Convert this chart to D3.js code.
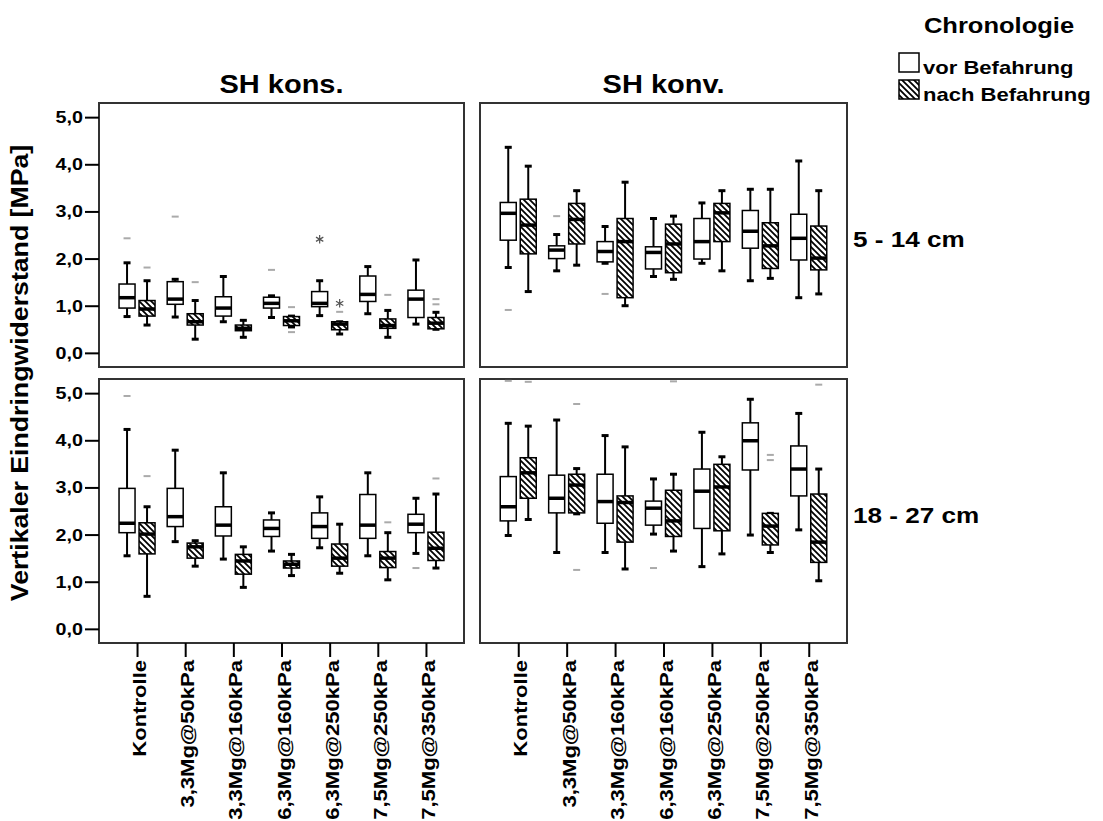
<!DOCTYPE html>
<html>
<head>
<meta charset="utf-8">
<script src="https://cdn.jsdelivr.net/npm/d3@7"></script>
<style>
  body { margin: 0; background: #fff; }
  text { font-family: "Liberation Sans", Arial, sans-serif; font-weight: bold; fill: #000; }
</style>
</head>
<body>
<div id="chart"></div>
<script>
// categories / labels
var categories = ["Kontrolle", "3,3Mg@50kPa", "3,3Mg@160kPa", "6,3Mg@160kPa", "6,3Mg@250kPa", "7,5Mg@250kPa", "7,5Mg@350kPa"];
var columns = ["SH kons.", "SH konv."];
var rows = ["5 - 14 cm", "18 - 27 cm"];
var series = ["vor Befahrung", "nach Befahrung"];
var yTicks = [0, 1, 2, 3, 4, 5];

// boxes: [whisker low, q1, median, q3, whisker high]
var konsTopVor = [
  [0.77, 0.95, 1.17, 1.46, 1.91],
  [0.76, 1.03, 1.14, 1.51, 1.56],
  [0.66, 0.78, 0.95, 1.19, 1.62],
  [0.75, 0.95, 1.05, 1.18, 1.21],
  [0.79, 0.98, 1.05, 1.30, 1.53],
  [0.83, 1.09, 1.24, 1.63, 1.83],
  [0.61, 0.75, 1.14, 1.33, 1.97]
];
var konsTopNach = [
  [0.59, 0.78, 0.93, 1.11, 1.53],
  [0.29, 0.59, 0.66, 0.83, 1.11],
  [0.33, 0.47, 0.52, 0.59, 0.69],
  [0.55, 0.58, 0.68, 0.77, 0.78],
  [0.40, 0.49, 0.61, 0.66, 0.66],
  [0.33, 0.52, 0.58, 0.72, 0.90],
  [0.50, 0.51, 0.63, 0.75, 0.86]
];
var konvTopVor = [
  [1.81, 2.39, 2.96, 3.19, 4.36],
  [1.74, 2.00, 2.18, 2.27, 2.51],
  [1.90, 1.93, 2.15, 2.36, 2.68],
  [1.62, 1.78, 2.13, 2.25, 2.85],
  [1.90, 1.99, 2.36, 2.85, 3.18],
  [1.53, 2.22, 2.58, 3.02, 3.47],
  [1.17, 1.97, 2.43, 2.94, 4.07]
];
var konvTopNach = [
  [1.30, 2.10, 2.71, 3.26, 3.96],
  [1.86, 2.31, 2.83, 3.17, 3.44],
  [1.00, 1.17, 2.36, 2.85, 3.62],
  [1.56, 1.70, 2.31, 2.73, 2.90],
  [1.74, 2.36, 2.97, 3.17, 3.44],
  [1.58, 1.79, 2.27, 2.76, 3.47],
  [1.25, 1.76, 2.01, 2.69, 3.44]
];
var konsBotVor = [
  [1.55, 2.04, 2.24, 2.98, 4.23],
  [1.85, 2.17, 2.38, 2.98, 3.79],
  [1.48, 1.97, 2.20, 2.59, 3.31],
  [1.65, 1.96, 2.13, 2.31, 2.46],
  [1.72, 1.92, 2.17, 2.46, 2.80],
  [1.55, 1.92, 2.20, 2.85, 3.31],
  [1.60, 2.04, 2.22, 2.43, 2.77]
];
var konsBotNach = [
  [0.69, 1.59, 2.01, 2.25, 2.59],
  [1.33, 1.50, 1.74, 1.82, 1.87],
  [0.88, 1.16, 1.44, 1.58, 1.74],
  [1.13, 1.29, 1.37, 1.44, 1.58],
  [1.18, 1.33, 1.50, 1.80, 2.22],
  [1.04, 1.30, 1.50, 1.64, 2.04],
  [1.29, 1.45, 1.71, 2.05, 2.86]
];
var konvBotVor = [
  [1.98, 2.29, 2.59, 3.23, 4.36],
  [1.62, 2.46, 2.77, 3.26, 4.43],
  [1.62, 2.24, 2.70, 3.28, 4.10],
  [2.01, 2.20, 2.56, 2.71, 3.18],
  [1.32, 2.13, 2.92, 3.39, 4.17],
  [1.99, 3.37, 3.99, 4.37, 4.87],
  [2.10, 2.82, 3.39, 3.88, 4.57]
];
var konvBotNach = [
  [2.32, 2.77, 3.31, 3.63, 4.30],
  [2.44, 2.46, 3.05, 3.28, 3.40],
  [1.27, 1.84, 2.68, 2.82, 3.86],
  [1.65, 1.96, 2.29, 2.94, 3.28],
  [1.59, 2.08, 3.01, 3.49, 3.65],
  [1.62, 1.78, 2.18, 2.45, 2.45],
  [1.02, 1.41, 1.84, 2.86, 3.39]
];

// outliers (o) and extremes (*) per category
var konsTopVorOut  = [[2.43], [2.89], [], [1.76], [], [], []];
var konsTopNachOut = [[1.81], [1.50], [], [0.97, 0.44], [0.87], [1.23], [1.14, 1.03]];
var konsTopVorExt  = [[], [], [], [], [2.41], [], []];
var konsTopNachExt = [[], [], [], [], [1.05], [], []];
var konvTopVorOut  = [[0.91], [2.90], [1.25], [], [], [], []];
var konvTopNachOut = [[], [], [], [], [], [], []];
var konsBotVorOut  = [[4.94], [], [], [], [], [], [1.29]];
var konsBotNachOut = [[3.24], [], [], [], [], [2.26], [3.19]];
var konvBotVorOut  = [[5.26], [], [], [1.29], [], [], []];
var konvBotNachOut = [[5.24], [4.77, 1.25], [], [5.25], [], [3.69, 3.58], [5.18]];
var none = [[], [], [], [], [], [], []];

var panels = [
  {col: 0, row: 0, boxes: [konsTopVor, konsTopNach], out: [konsTopVorOut, konsTopNachOut], ext: [konsTopVorExt, konsTopNachExt]},
  {col: 1, row: 0, boxes: [konvTopVor, konvTopNach], out: [konvTopVorOut, konvTopNachOut], ext: [none, none]},
  {col: 0, row: 1, boxes: [konsBotVor, konsBotNach], out: [konsBotVorOut, konsBotNachOut], ext: [none, none]},
  {col: 1, row: 1, boxes: [konvBotVor, konvBotNach], out: [konvBotVorOut, konvBotNachOut], ext: [none, none]}
];

var width = 1103, height = 821;
var colX = [[99, 464], [480, 847]];
var rowY = [[103, 367], [379, 643]];
var stretch = 1.16;   // the source font runs wide
var boxW = 16, offs = [-10, 10], capW = 7;

var svg = d3.select("#chart").append("svg")
    .attr("width", width)
    .attr("height", height);

var defs = svg.append("defs");
var pat = defs.append("pattern")
    .attr("id", "hatch")
    .attr("patternUnits", "userSpaceOnUse")
    .attr("width", 6).attr("height", 6);
pat.append("rect").attr("width", 6).attr("height", 6).attr("fill", "#fff");
pat.append("path")
    .attr("d", "M0,0L6,6M-3,3L3,9M3,-3L9,3")
    .attr("stroke", "#000").attr("stroke-width", 1.8);

var fmt = function (d) { return d3.format(".1f")(d).replace(".", ","); };

function stretchedText(g, x, y, rot, size, str, anchor) {
    return g.append("text")
        .attr("transform", "translate(" + x + "," + y + ") rotate(" + rot + ") scale(" + stretch + ",1)")
        .attr("font-size", size)
        .attr("text-anchor", anchor)
        .text(str);
}

panels.forEach(function (p) {
    var x0 = colX[p.col][0], x1 = colX[p.col][1];
    var y0 = rowY[p.row][0], y1 = rowY[p.row][1];

    var x = d3.scalePoint().domain(categories).range([x0, x1]).padding(0.79);
    var y = d3.scaleLinear().domain([-0.3, 5.3]).range([y1, y0]);

    var g = svg.append("g");

    g.append("rect")
        .attr("x", x0).attr("y", y0)
        .attr("width", x1 - x0).attr("height", y1 - y0)
        .attr("fill", "#fff")
        .attr("stroke", "#333").attr("stroke-width", 2);

    // y axis on the left column
    if (p.col === 0) {
        var ya = g.append("g")
            .attr("transform", "translate(" + x0 + ",0)")
            .call(d3.axisLeft(y).tickValues(yTicks).tickFormat(fmt).tickSize(14).tickPadding(2));
        ya.select(".domain").remove();
        ya.selectAll("line").attr("stroke", "#000").attr("stroke-width", 2);
        ya.selectAll("text")
            .attr("font-size", 17)
            .attr("font-family", null)
            .attr("x", -16 / stretch)
            .attr("transform", "scale(" + stretch + ",1)");
    }

    // x axis on the bottom row
    if (p.row === 1) {
        var xa = g.append("g")
            .attr("transform", "translate(0," + y1 + ")")
            .call(d3.axisBottom(x).tickSize(14).tickPadding(0));
        xa.select(".domain").remove();
        xa.selectAll("line").attr("stroke", "#000").attr("stroke-width", 2);
        xa.selectAll("text")
            .attr("font-size", 19)
            .attr("font-family", null)
            .attr("text-anchor", "end")
            .attr("x", -17 / stretch)
            .attr("y", 0)
            .attr("dy", "0.45em")
            .attr("transform", "rotate(-90) scale(" + stretch + ",1)");
    }

    // boxes
    [0, 1].forEach(function (s) {
        var data = p.boxes[s];
        var bx = g.append("g").attr("class", "series-" + s);
        data.forEach(function (b, i) {
            var cx = x(categories[i]) + offs[s];
            var lo = b[0], q1 = b[1], med = b[2], q3 = b[3], hi = b[4];
            bx.append("line")
                .attr("x1", cx).attr("x2", cx)
                .attr("y1", y(lo)).attr("y2", y(hi))
                .attr("stroke", "#000").attr("stroke-width", 2);
            [lo, hi].forEach(function (v) {
                bx.append("line")
                    .attr("x1", cx - capW / 2).attr("x2", cx + capW / 2)
                    .attr("y1", y(v)).attr("y2", y(v))
                    .attr("stroke", "#000").attr("stroke-width", 3);
            });
            bx.append("rect")
                .attr("x", cx - boxW / 2).attr("width", boxW)
                .attr("y", y(q3)).attr("height", Math.max(1, y(q1) - y(q3)))
                .attr("fill", s === 0 ? "#fff" : "url(#hatch)")
                .attr("stroke", "#000").attr("stroke-width", 1.5);
            bx.append("line")
                .attr("x1", cx - boxW / 2).attr("x2", cx + boxW / 2)
                .attr("y1", y(med)).attr("y2", y(med))
                .attr("stroke", "#000").attr("stroke-width", 3.5);

            p.out[s][i].forEach(function (v) {
                bx.append("line")
                    .attr("x1", cx - 3.5).attr("x2", cx + 3.5)
                    .attr("y1", y(v)).attr("y2", y(v))
                    .attr("stroke", "#aaa").attr("stroke-width", 2);
            });
            p.ext[s][i].forEach(function (v) {
                bx.append("path")
                    .attr("transform", "translate(" + cx + "," + y(v) + ")")
                    .attr("d", d3.symbol(d3.symbolAsterisk, 50)())
                    .attr("fill", "none")
                    .attr("stroke", "#555").attr("stroke-width", 1.2);
            });
        });
    });

    if (p.row === 0) {
        stretchedText(svg, (x0 + x1) / 2, 93, 0, 25, columns[p.col], "middle");
    }
    if (p.col === 1) {
        stretchedText(svg, 853, (y0 + y1) / 2 + 12, 0, 22.5, rows[p.row], "start");
    }
});

// y axis title
stretchedText(svg, 28, (rowY[0][0] + rowY[1][1]) / 2, -90, 23, "Vertikaler Eindringwiderstand [MPa]", "middle");

// legend
stretchedText(svg, 999, 33, 0, 22, "Chronologie", "middle");
var leg = svg.append("g");
series.forEach(function (name, i) {
    var ly = 53 + i * 27;
    leg.append("rect")
        .attr("x", 899).attr("y", ly)
        .attr("width", 20).attr("height", 19)
        .attr("fill", i === 0 ? "#fff" : "url(#hatch)")
        .attr("stroke", "#000").attr("stroke-width", 1.5);
    stretchedText(leg, 923, ly + 21, 0, 19, name, "start");
});
</script>
</body>
</html>
